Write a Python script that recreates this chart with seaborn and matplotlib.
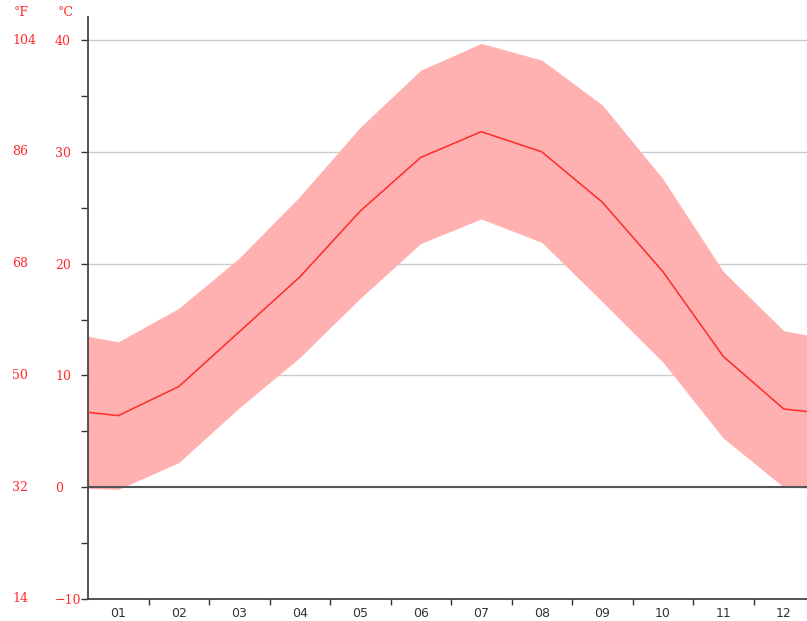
import numpy as np
import pandas as pd
import seaborn as sns
import matplotlib
matplotlib.use("Agg")
import matplotlib.pyplot as plt
import matplotlib.transforms as mtransforms
from matplotlib.ticker import MultipleLocator, FixedLocator, NullFormatter

# monthly climate values (deg C)
months = ["01", "02", "03", "04", "05", "06", "07", "08", "09", "10", "11", "12"]
mean_temp = [6.4, 9.0, 13.9, 18.8, 24.7, 29.5, 31.8, 30.0, 25.5, 19.3, 11.7, 7.0]
max_temp = [13.0, 16.0, 20.5, 26.0, 32.2, 37.3, 39.7, 38.2, 34.2, 27.6, 19.3, 14.0]
min_temp = [-0.2, 2.2, 7.1, 11.6, 16.9, 21.8, 24.0, 21.9, 16.6, 11.2, 4.4, 0.0]
# values at the left / right edge of the plot (year wrap-around)
edge_mean, edge_max, edge_min = 6.7, 13.5, -0.1

celsius_ticks = [-10, 0, 10, 20, 30, 40]
fahrenheit_labels = ["14", "32", "50", "68", "86", "104"]

month_pos = np.arange(len(months)) + 0.5
x = np.concatenate([[0], month_pos, [len(months)]])
df = pd.DataFrame({
    "x": x,
    "mean": [edge_mean] + mean_temp + [edge_mean],
    "max": [edge_max] + max_temp + [edge_max],
    "min": [edge_min] + min_temp + [edge_min],
})

sns.set_style("white")
plt.rcParams["font.family"] = ["DejaVu Sans"]

W, H = 807, 621
fig = plt.figure(figsize=(W / 100, H / 100), dpi=100)
# plot area runs past the right edge of the image, like the original crop
ax = fig.add_axes([88 / W, (H - 599) / H, 726 / W, 582 / H])

red = "#ff2a2a"
band = "#ffb0b0"

for c in celsius_ticks[1:]:
    if c != 0:
        ax.axhline(c, color="#cccccc", lw=1.0, zorder=0.5)
ax.fill_between(df["x"], df["min"], df["max"], color=band, lw=0, zorder=1)
ax.axhline(0, color="#555555", lw=1.5, zorder=2)
sns.lineplot(data=df, x="x", y="mean", color=red, lw=1.1, ax=ax, zorder=3)

ax.set_xlim(0, len(months))
ax.set_ylim(-10, 42.06)
ax.set_xlabel("")
ax.set_ylabel("")

# x axis: labels at month centres, small ticks at month boundaries
ax.xaxis.set_major_locator(FixedLocator(month_pos))
ax.set_xticklabels(months)
ax.xaxis.set_minor_locator(FixedLocator(np.arange(1, len(months))))
ax.xaxis.set_minor_formatter(NullFormatter())
ax.tick_params(axis="x", which="major", length=0, pad=6, labelsize=9, labelcolor="#333333")
ax.tick_params(axis="x", which="minor", bottom=True, length=4, width=1, color="#333333", direction="out")

# y axis in deg C, labels left-aligned in their column
ax.yaxis.set_major_locator(FixedLocator(celsius_ticks))
ax.yaxis.set_minor_locator(MultipleLocator(5))
ax.set_yticklabels([str(c).replace("-", "\u2212") for c in celsius_ticks])
ax.tick_params(axis="y", which="both", left=True, length=5, width=1, color="#333333", direction="out")
ax.tick_params(axis="y", which="major", pad=26 * 0.72, labelsize=9, labelcolor="#ff2a2a")
for lab in ax.get_yticklabels():
    lab.set_fontfamily("DejaVu Serif")
    lab.set_horizontalalignment("left")

for side in ["top", "right"]:
    ax.spines[side].set_visible(False)
for side in ["left", "bottom"]:
    ax.spines[side].set_color("#444444")
    ax.spines[side].set_linewidth(1.3)

# deg F column
trans = mtransforms.blended_transform_factory(fig.transFigure, ax.transData)
for c, f in zip(celsius_ticks, fahrenheit_labels):
    ax.text(12 / W, c, f, transform=trans, ha="left", va="center",
            fontsize=9, color="#ff2a2a", family="DejaVu Serif", clip_on=False)

fig.text(14 / W, 1 - 12 / H, "\u00b0F", ha="left", va="center", fontsize=9,
         color="#ff2a2a", family="DejaVu Serif")
fig.text(58 / W, 1 - 12 / H, "\u00b0C", ha="left", va="center", fontsize=9,
         color="#ff2a2a", family="DejaVu Serif")

fig.savefig("out.png", dpi=100)
